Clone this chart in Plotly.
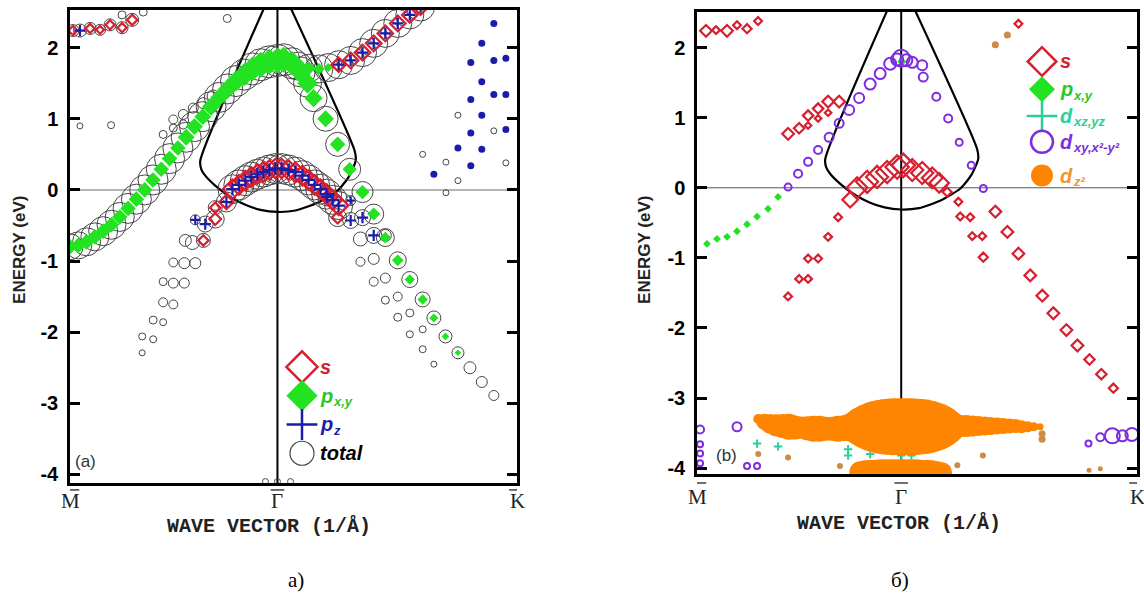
import plotly.graph_objects as go

# ------------------------------------------------------------------ data
# k axis: M = -1, Gamma = 0, K = 1.1547 (|GK|/|GM| = 2/sqrt3); E in eV
k_ticks = [-1.0, 0.0, 1.1547]
k_labels = ["M", "Γ", "K"]
e_ticks = [-4, -3, -2, -1, 0, 1, 2]
e_labels = ["-4", "-3", "-2", "-1", "0", "1", "2"]

# projected bulk-band boundary (same in both panels)
bulk_k = [-0.058, -0.372, -0.367, -0.348, -0.300, -0.227, -0.155, -0.082, 0.0,
          0.087, 0.193, 0.290, 0.343, 0.377, 0.372, 0.057]
bulk_E = [2.60, 0.41, 0.29, 0.20, 0.06, -0.10, -0.21, -0.28, -0.31,
          -0.29, -0.18, -0.01, 0.18, 0.41, 0.55, 2.60]

# ---- panel (a) ----
a_gl_k = [-1.00, -0.96, -0.92, -0.88, -0.84, -0.80, -0.76, -0.72, -0.68, -0.64, -0.60, -0.56, -0.52,
          -0.48, -0.44, -0.40, -0.36, -0.32, -0.28, -0.24, -0.20, -0.16, -0.12, -0.08, -0.04, 0.00]
a_gl_E = [-0.80, -0.78, -0.73, -0.66, -0.58, -0.49, -0.38, -0.26, -0.13, 0.00, 0.14, 0.29, 0.44,
          0.59, 0.74, 0.89, 1.03, 1.17, 1.30, 1.42, 1.53, 1.62, 1.70, 1.76, 1.80, 1.82]
a_gl_pxy = [12, 12, 12, 12, 12, 12, 12, 12, 12, 12, 12, 12, 12, 12, 13, 13, 13, 14, 14, 15, 16, 18, 19, 20, 20, 20]
a_gl_tot = [26, 27, 28, 28, 29, 29, 29, 30, 30, 30, 30, 30, 30, 30, 30, 30, 30, 30, 30, 30, 31, 31, 32, 32, 32, 32]

a_gr_k = [0.03, 0.07, 0.11, 0.145, 0.174, 0.232, 0.290, 0.348, 0.410, 0.464, 0.520, 0.580, 0.638, 0.700,
          0.754, 0.810, 0.870, 0.928, 0.985, 1.043]
a_gr_E = [1.83, 1.78, 1.66, 1.50, 1.29, 1.00, 0.64, 0.29, -0.03, -0.34, -0.67, -0.99, -1.26, -1.54,
          -1.80, -2.06, -2.29, -2.50, -2.70, -2.89]
a_gr_pxy = [20, 19, 17, 16, 14, 13, 12, 11, 11, 10, 9, 9, 8, 8, 7, 6, 5, 0, 0, 0]
a_gr_tot = [32, 31, 30, 28, 27, 25, 24, 22, 21, 20, 18, 17, 16, 15, 14, 13, 12, 12, 11, 10]

a_c_k = [0.10, 0.15, 0.20, 0.245, 0.295, 0.353, 0.410, 0.464, 0.520, 0.580, 0.638, 0.690]
a_c_E = [1.74, 1.71, 1.70, 1.72, 1.76, 1.82, 1.93, 2.06, 2.20, 2.34, 2.46, 2.57]
a_c_pxy = [13, 11, 9, 7, 0, 0, 0, 0, 0, 0, 0, 0]
a_c_s = [0, 0, 0, 0, 11, 12, 12, 12, 12, 12, 12, 12]
a_c_pz = [0, 0, 0, 0, 8, 8, 8, 8, 8, 8, 8, 8]
a_c_tot = [28, 28, 28, 28, 28, 28, 28, 28, 28, 28, 28, 28]

a_b_k = [-0.217, -0.186, -0.155, -0.126, -0.097, -0.068, -0.039, -0.010, 0.020, 0.053, 0.086, 0.120,
         0.150, 0.179, 0.208, 0.237, 0.266, 0.295]
a_b_E = [0.01, 0.07, 0.13, 0.18, 0.22, 0.25, 0.28, 0.30, 0.30, 0.28, 0.25, 0.20,
         0.14, 0.07, 0.01, -0.06, -0.14, -0.22]
a_b_s = [15] * 18
a_b_pz = [9] * 18
a_b_tot = [29, 30, 30, 30, 30, 30, 30, 30, 30, 30, 30, 30, 30, 30, 30, 30, 29, 28]

a_bt_k = [-0.246, -0.300, -0.300, -0.348, -0.357, -0.396, -0.410, -0.444, 0.240, 0.290, 0.353, 0.353,
          0.410, 0.464, 0.400, 0.520]
a_bt_E = [-0.17, -0.25, -0.41, -0.48, -0.71, -0.42, -0.74, -0.71, -0.10, -0.39, -0.15, -0.43,
          -0.39, -0.64, -0.69, -0.64]
a_bt_s = [11, 8, 9, 0, 8, 0, 0, 0, 10, 9, 0, 0, 0, 0, 0, 0]
a_bt_pz = [8, 0, 0, 8, 0, 7, 0, 0, 8, 0, 6, 8, 8, 8, 0, 0]
a_bt_tot = [20, 14, 18, 16, 14, 10, 14, 12, 18, 18, 10, 16, 16, 16, 14, 12]

a_tl_k = [-0.986, -0.952, -0.903, -0.855, -0.807, -0.749, -0.700]
a_tl_E = [2.24, 2.24, 2.27, 2.25, 2.32, 2.28, 2.39]
a_tl_s = [7, 0, 7, 6, 7, 7, 8]
a_tl_pz = [0, 8, 0, 0, 0, 0, 0]
a_tl_tot = [12, 13, 12, 11, 12, 12, 13]

a_grey_k = [-0.551, -0.502, -0.502, -0.454, -0.454, -0.406, -0.358, -0.310,
            -0.952, -0.802, -0.749, -0.647, -0.242,
            -0.652, -0.652, -0.599, -0.599, -0.551, -0.551, -0.502, -0.551, -0.502, -0.449, -0.502, -0.449, -0.396,
            0.400, 0.464, 0.464, 0.520, 0.520, 0.580, 0.580, 0.638, 0.638, 0.700, 0.700, 0.754,
            0.870, 1.043, 0.700, 0.812, 0.870, 0.812, 1.101,
            -0.058, 0.000, 0.063]
a_grey_E = [0.78, 0.87, 0.99, 0.92, 1.06, 1.15, 1.22, 1.32,
            0.90, 0.91, 2.46, 2.50, 2.41,
            -2.29, -2.06, -2.10, -1.83, -1.86, -1.58, -1.61, -1.29, -1.31, -1.31, -1.02, -1.03, -1.03,
            -1.01, -0.97, -1.29, -1.24, -1.55, -1.50, -1.79, -1.73, -2.03, -1.96, -2.24, -2.45,
            1.05, 0.83, 0.50, 0.39, 0.13, -0.04, 0.38,
            -4.10, -4.10, -4.10]
a_grey_tot = [8, 8, 9, 9, 10, 10, 11, 12,
              6, 7, 8, 8, 8,
              6, 7, 7, 8, 7, 9, 9, 8, 10, 10, 9, 11, 11,
              9, 11, 9, 10, 8, 9, 8, 8, 7, 7, 7, 6,
              6, 6, 6, 6, 6, 6, 6,
              6, 6, 6]

a_pzdot_k = [1.043, 0.985, 0.932, 1.043, 1.101, 0.985, 0.932, 1.043, 1.101, 0.985, 0.932, 1.101, 0.870,
             0.985, 0.932, 0.754]
a_pzdot_E = [2.34, 2.06, 1.79, 1.82, 1.85, 1.52, 1.27, 1.34, 1.34, 1.05, 0.80, 0.85, 0.59,
             0.57, 0.34, 0.22]

# ---- panel (b) ----
b_s_k = [-0.956, -0.907, -0.853, -0.804, -0.755, -0.701,
         -0.554, -0.500, -0.456, -0.407, -0.358, -0.456, -0.407, -0.358, -0.304,
         -0.250, -0.216, -0.167, -0.118, -0.069, -0.020, 0.010, 0.054, 0.103, 0.152, 0.186,
         -0.309, -0.358, -0.407, -0.456, -0.456, -0.500, -0.554,
         0.225, 0.280, 0.289, 0.338, 0.348, 0.397, 0.402,
         0.461, 0.520, 0.574, 0.632, 0.691, 0.745, 0.809, 0.863, 0.922, 0.980, 1.039,
         0.574]
b_s_E = [2.24, 2.25, 2.24, 2.32, 2.27, 2.38,
         0.77, 0.85, 0.89, 0.99, 1.07, 1.03, 1.13, 1.23, 1.23,
         -0.17, 0.00, 0.085, 0.155, 0.225, 0.296, 0.32, 0.254, 0.211, 0.141, 0.07,
         -0.42, -0.70, -1.01, -1.01, -1.30, -1.30, -1.55,
         -0.06, -0.20, -0.41, -0.42, -0.69, -0.69, -0.99,
         -0.34, -0.63, -0.94, -1.25, -1.54, -1.79, -2.03, -2.25, -2.45, -2.66, -2.86,
         2.34]
b_s_w = [9, 6, 9, 6, 7, 6,
         9, 8, 5, 5, 5, 8, 8, 9, 9,
         12, 16, 17, 17, 17, 18, 18, 17, 17, 16, 15,
         6, 6, 6, 6, 6, 6, 6,
         7, 6, 6, 6, 6, 6, 7,
         9, 9, 9, 9, 9, 9, 9, 9, 8, 8, 7,
         6]

b_pxy_k = [-0.951, -0.902, -0.853, -0.804, -0.755, -0.706, -0.652, -0.603, 0.003]
b_pxy_E = [-0.80, -0.73, -0.70, -0.62, -0.52, -0.41, -0.30, -0.13, 1.80]
b_pxy_w = [6, 6, 6, 6, 6, 6, 6, 6, 7]

b_dxz_k = [-0.706, -0.603, -0.260, -0.260, -0.152, 0.000, 0.050]
b_dxz_E = [-3.65, -3.69, -3.73, -3.82, -3.80, -3.82, -3.82]
b_dxz_w = [6, 6, 6, 6, 6, 6, 6]

b_dxy_k = [-0.554, -0.505, -0.456, -0.407, -0.353, -0.304, -0.255, -0.206, -0.152, -0.103, -0.054, -0.020,
           0.000, 0.025, 0.054, 0.103, 0.108, 0.172, 0.230, 0.284, 0.343, 0.402,
           -0.985, -0.985, -0.985, -0.985, -0.804, -0.755, -0.706,
           0.917, 0.975, 1.034, 1.083, 1.130]
b_dxy_E = [0.01, 0.20, 0.37, 0.54, 0.72, 0.92, 1.11, 1.28, 1.48, 1.63, 1.77, 1.83,
           1.85, 1.82, 1.79, 1.75, 1.58, 1.30, 0.99, 0.65, 0.32, -0.01,
           -3.45, -3.66, -3.79, -3.93, -3.41, -3.97, -3.97,
           -3.65, -3.56, -3.54, -3.54, -3.52]
b_dxy_w = [7, 8, 8, 8, 9, 9, 10, 10, 11, 11, 12, 12,
           17, 12, 11, 10, 9, 8, 8, 7, 7, 7,
           8, 6, 6, 6, 9, 6, 6,
           6, 8, 15, 11, 13]

b_dz2_k = [-0.70, -0.67, -0.64, -0.61, -0.58, -0.55, -0.52, -0.49, -0.46, -0.43, -0.40, -0.37, -0.34, -0.31,
           -0.28, -0.25, -0.22, -0.19, -0.16, -0.13, -0.10, -0.07, -0.04, -0.01, 0.02, 0.05, 0.08, 0.11,
           0.14, 0.17, 0.20, 0.23, 0.26, 0.29, 0.32, 0.35, 0.38, 0.41, 0.44, 0.47, 0.50, 0.53, 0.56,
           0.59, 0.62, 0.65, 0.68]
b_dz2_E = [-3.30, -3.34, -3.37, -3.39, -3.40, -3.41, -3.42, -3.42, -3.43, -3.44, -3.44, -3.44, -3.44, -3.44,
           -3.43, -3.42, -3.41, -3.41, -3.41, -3.41, -3.41, -3.41, -3.41, -3.41, -3.41, -3.41, -3.41, -3.41,
           -3.41, -3.41, -3.41, -3.41, -3.40, -3.40, -3.40, -3.40, -3.40, -3.40, -3.40, -3.40, -3.40, -3.40,
           -3.40, -3.41, -3.41, -3.41, -3.41]
b_dz2_w = [10, 16, 20, 22, 24, 26, 24, 22, 24, 26, 26, 24, 24, 26, 26, 28, 32, 40, 46, 51, 54, 56, 57, 57,
           57, 57, 56, 55, 52, 48, 42, 34, 26, 22, 22, 21, 20, 19, 18, 17, 16, 15, 14, 13, 11, 9, 7]
b_dz2_low_k = [-0.200, -0.175, -0.150, -0.125, -0.100, -0.075, -0.050, -0.025, 0.000, 0.025, 0.050,
               0.075, 0.100, 0.125, 0.150, 0.175, 0.200]
b_dz2_low_E = [-4.06] * 17
b_dz2_low_w = [22, 24, 25, 25, 26, 26, 26, 26, 26, 26, 26, 26, 25, 25, 24, 22, 20]
b_dz2_dot_k = [-0.700, -0.554, -0.300, 0.275, 0.400, 0.690, 0.690, 0.920, 0.975, 0.461, 0.520]
b_dz2_dot_E = [-3.80, -3.85, -3.97, -3.96, -3.82, -3.51, -3.59, -4.03, -4.01, 2.04, 2.18]
b_dz2_dot_w = [6, 6, 6, 6, 6, 7, 7, 5, 5, 7, 7]

# ------------------------------------------------------------------ style
W, H = 1144, 607
RED = "rgb(214,32,48)"
GREEN = "rgb(34,226,34)"
BLUE = "rgb(28,28,170)"
TOTAL = "rgb(70,70,70)"
TEAL = "rgb(40,210,150)"
PURPLE = "rgb(125,45,225)"
ORANGE = "rgb(255,133,0)"
BROWN = "rgb(205,140,70)"

PA = dict(x0=70, x1=517, y0=10, y1=487, xr=[-1.0, 1.1547], yr=[-4.12, 2.53])
PB = dict(x0=697, x1=1137, y0=12, y1=478, xr=[-1.0, 1.1547], yr=[-4.085, 2.51])


def px(x):
    return x / W


def py(y):
    return 1 - y / H


def to_data(P, x, y):
    k = P["xr"][0] + (x - P["x0"]) / (P["x1"] - P["x0"]) * (P["xr"][1] - P["xr"][0])
    e = P["yr"][1] - (y - P["y0"]) / (P["y1"] - P["y0"]) * (P["yr"][1] - P["yr"][0])
    return k, e


fig = go.Figure()


def add_pts(k, E, w, symbol, color, lw=0, panel=1, line_color=None, opacity=1.0):
    kk = [a for a, s in zip(k, w) if s > 0]
    ee = [b for b, s in zip(E, w) if s > 0]
    ww = [s for s in w if s > 0]
    fig.add_trace(go.Scatter(
        x=kk, y=ee, mode="markers",
        xaxis="x" if panel == 1 else "x2", yaxis="y" if panel == 1 else "y2",
        marker=dict(symbol=symbol, size=ww, color=color, opacity=opacity,
                    line=dict(width=lw, color=line_color or color)),
        hoverinfo="skip", showlegend=False))


def add_line(k, E, panel):
    fig.add_trace(go.Scatter(
        x=k, y=E, mode="lines", line=dict(color="black", width=2.2, shape="spline", smoothing=0.6),
        xaxis="x" if panel == 1 else "x2", yaxis="y" if panel == 1 else "y2",
        hoverinfo="skip", showlegend=False))


# ---------------- panel (a)
add_line(bulk_k, bulk_E, 1)
for k, E, w in [(a_gl_k, a_gl_E, a_gl_tot), (a_gr_k, a_gr_E, a_gr_tot), (a_c_k, a_c_E, a_c_tot),
                (a_b_k, a_b_E, a_b_tot), (a_bt_k, a_bt_E, a_bt_tot), (a_tl_k, a_tl_E, a_tl_tot),
                (a_grey_k, a_grey_E, a_grey_tot)]:
    add_pts(k, E, w, "circle-open", TOTAL, lw=1.0, panel=1)
for k, E, w in [(a_gl_k, a_gl_E, a_gl_pxy), (a_gr_k, a_gr_E, a_gr_pxy), (a_c_k, a_c_E, a_c_pxy)]:
    add_pts(k, E, w, "diamond", GREEN, lw=0, panel=1)
for k, E, w in [(a_c_k, a_c_E, a_c_s), (a_b_k, a_b_E, a_b_s), (a_bt_k, a_bt_E, a_bt_s), (a_tl_k, a_tl_E, a_tl_s)]:
    add_pts(k, E, w, "diamond-open", RED, lw=2.2, panel=1)
for k, E, w in [(a_c_k, a_c_E, a_c_pz), (a_b_k, a_b_E, a_b_pz), (a_bt_k, a_bt_E, a_bt_pz), (a_tl_k, a_tl_E, a_tl_pz)]:
    add_pts(k, E, w, "cross-thin-open", BLUE, lw=2.2, panel=1)
add_pts(a_pzdot_k, a_pzdot_E, [7] * len(a_pzdot_k), "circle", BLUE, lw=0, panel=1)

# ---------------- panel (b)
add_line(bulk_k, bulk_E, 2)
add_pts(b_s_k, b_s_E, b_s_w, "diamond-open", RED, lw=2.2, panel=2)
add_pts(b_pxy_k, b_pxy_E, b_pxy_w, "diamond", GREEN, lw=0, panel=2)
add_pts(b_dxz_k, b_dxz_E, b_dxz_w, "cross-thin-open", TEAL, lw=2.0, panel=2)
add_pts(b_dxy_k, b_dxy_E, b_dxy_w, "circle-open", PURPLE, lw=2.0, panel=2)
add_pts(b_dz2_k, b_dz2_E, b_dz2_w, "circle", ORANGE, lw=0, panel=2)
add_pts(b_dz2_low_k, b_dz2_low_E, b_dz2_low_w, "circle", ORANGE, lw=0, panel=2)
add_pts(b_dz2_dot_k, b_dz2_dot_E, b_dz2_dot_w, "circle", BROWN, lw=0, panel=2)

# ---------------- legend keys (positioned in pixels, converted to data)
leg_a = [("diamond-open", RED, 24, 2.5, 370), ("diamond", GREEN, 24, 0, 399),
         ("cross-thin-open", BLUE, 22, 2.5, 428), ("circle-open", TOTAL, 24, 1.2, 457)]
for sym, col, sz, lw, yy in leg_a:
    k, e = to_data(PA, 302, yy)
    add_pts([k], [e], [sz], sym, col, lw=lw, panel=1)
leg_b = [("diamond-open", RED, 22, 2.5, 62), ("diamond", GREEN, 20, 0, 90),
         ("cross-thin-open", TEAL, 22, 2.5, 117), ("circle-open", PURPLE, 22, 2.5, 143),
         ("circle", ORANGE, 22, 0, 177)]
for sym, col, sz, lw, yy in leg_b:
    k, e = to_data(PB, 1042, yy)
    add_pts([k], [e], [sz], sym, col, lw=lw, panel=2)

# ---------------- axes
yax = dict(showline=True, linecolor="black", linewidth=2.5, mirror="ticks", ticks="inside", ticklen=10,
           tickwidth=2.5, tickcolor="black", tickmode="array", tickvals=e_ticks, ticktext=e_labels,
           tickfont=dict(family="Liberation Sans", size=20, color="black", weight="bold"),
           ticklabelstandoff=5, showgrid=False, zeroline=False)
xax = dict(showline=True, linecolor="black", linewidth=2.5, mirror=True, ticks="", showticklabels=False,
           tickmode="array", tickvals=[], showgrid=False, zeroline=False)

fig.update_layout(
    width=W, height=H, margin=dict(l=0, r=0, t=0, b=0),
    paper_bgcolor="white", plot_bgcolor="white", showlegend=False,
    xaxis=dict(xax, domain=[px(PA["x0"]), px(PA["x1"])], range=PA["xr"]),
    yaxis=dict(yax, domain=[py(PA["y1"]), py(PA["y0"])], range=PA["yr"]),
    xaxis2=dict(xax, domain=[px(PB["x0"]), px(PB["x1"])], range=PB["xr"], anchor="y2"),
    yaxis2=dict(yax, domain=[py(PB["y1"]), py(PB["y0"])], range=PB["yr"], anchor="x2"),
)

shapes = []
for xr, yr, zc, zw in [("x", "y", "#b4b4b4", 2), ("x2", "y2", "#555555", 1)]:
    shapes.append(dict(type="line", xref=xr + " domain", yref=yr, x0=0, x1=1, y0=0, y1=0,
                       line=dict(color=zc, width=zw), layer="below"))
    shapes.append(dict(type="line", xref=xr, yref=yr + " domain", x0=0, x1=0, y0=0, y1=1,
                       line=dict(color="black", width=2), layer="below"))

ann = []


def text_at(x, y, text, font, xanchor="center", yanchor="middle", **kw):
    ann.append(dict(xref="paper", yref="paper", x=px(x), y=py(y), xanchor=xanchor, yanchor=yanchor,
                    text=text, showarrow=False, font=font, **kw))


# x tick labels with overbars
for xr, top, bar in [("x", 491, 494), ("x2", 487, 487)]:
    for kv, lab, half in zip(k_ticks, k_labels, [0.045, 0.033, 0.038]):
        ann.append(dict(xref=xr, yref="paper", x=kv, y=py(top), yanchor="top", xanchor="center",
                        text=lab, showarrow=False,
                        font=dict(family="Liberation Serif", size=21, color="#222")))
        shapes.append(dict(type="line", xref=xr, yref="paper", x0=kv - half, x1=kv + half,
                           y0=py(bar), y1=py(bar), line=dict(color="#222", width=1.3)))

for cx, cy in [(269, 530), (899, 527)]:
    text_at(cx, cy, "WAVE VECTOR (1/Å)",
            dict(family="Liberation Mono", size=20, color="#222", weight="bold"))
for cx in [20, 645]:
    text_at(cx, 252, "ENERGY (eV)", dict(family="Liberation Sans", size=17, color="#222", weight="bold"),
            textangle=-90)
text_at(85, 465, "(a)", dict(family="Liberation Sans", size=17, color="#333"))
text_at(726, 459, "(b)", dict(family="Liberation Sans", size=17, color="#333"))
text_at(296, 585, "а)", dict(family="Liberation Serif", size=21, color="black"))
text_at(900, 585, "б)", dict(family="Liberation Serif", size=21, color="black"))


def legend_text(x, y, main, sub, color):
    # main symbol plus a lowered, smaller subscript drawn as its own text
    text_at(x, y, "<b><i>" + main + "</i></b>", dict(family="Liberation Sans", size=20, color=color),
            xanchor="left")
    if sub:
        text_at(x + 12.5, y + 6, "<b><i>" + sub + "</i></b>",
                dict(family="Liberation Sans", size=13, color=color), xanchor="left")


leg_a_txt = [("s", "", RED, 370), ("p", "x,y", "rgb(40,200,40)", 399),
             ("p", "z", BLUE, 428), ("total", "", "black", 457)]
for m, s, c, yy in leg_a_txt:
    legend_text(318, yy, m, s, c)
leg_b_txt = [("s", "", RED, 62), ("p", "x,y", "rgb(40,200,40)", 90), ("d", "xz,yz", TEAL, 117),
             ("d", "xy,x²-y²", PURPLE, 143), ("d", "z²", "rgb(240,150,40)", 177)]
for m, s, c, yy in leg_b_txt:
    legend_text(1058, yy, m, s, c)

fig.update_layout(shapes=shapes, annotations=ann)
fig.write_html("out.html")
